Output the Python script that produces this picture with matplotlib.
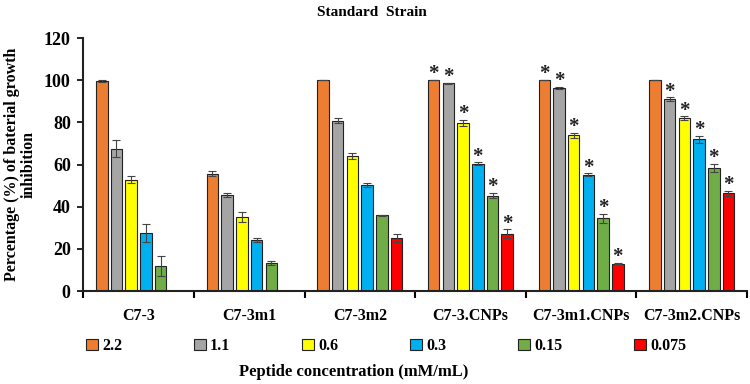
import numpy as np
import matplotlib
matplotlib.use("Agg")
import matplotlib.pyplot as plt

plt.rcParams['font.family'] = ['Liberation Serif', 'DejaVu Serif']
plt.rcParams['font.weight'] = 'bold'

categories = ['C7-3', 'C7-3m1', 'C7-3m2', 'C7-3.CNPs', 'C7-3m1.CNPs', 'C7-3m2.CNPs']
concentrations = ['2.2', '1.1', '0.6', '0.3', '0.15', '0.075']

v22 = [99.7, 55.6, 100.0, 100.0, 100.0, 100.0]
v11 = [67.6, 45.6, 80.8, 98.5, 96.2, 91.0]
v06 = [52.8, 35.1, 64.1, 79.7, 73.9, 82.0]
v03 = [27.5, 24.1, 50.3, 60.4, 55.2, 72.0]
v015 = [11.8, 13.2, 36.0, 45.2, 34.5, 58.4]
v0075 = [0.0, 0.0, 25.2, 27.2, 13.0, 46.4]

e22 = [0.4, 1.2, 0.0, 0.0, 0.0, 0.0]
e11 = [4.1, 0.8, 1.3, 0.3, 0.6, 0.8]
e06 = [1.7, 2.4, 1.3, 1.3, 1.2, 0.8]
e03 = [4.3, 1.0, 1.1, 0.6, 0.6, 1.6]
e015 = [4.6, 0.9, 0.2, 1.3, 2.2, 1.7]
e0075 = [0.0, 0.0, 1.8, 2.0, 0.3, 1.1]

# 1 = significant (asterisk)
s22 = [0, 0, 0, 1, 1, 0]
s11 = [0, 0, 0, 1, 1, 1]
s06 = [0, 0, 0, 1, 1, 1]
s03 = [0, 0, 0, 1, 1, 1]
s015 = [0, 0, 0, 1, 1, 1]
s0075 = [0, 0, 0, 1, 1, 1]

values = [v22, v11, v06, v03, v015, v0075]
errors = [e22, e11, e06, e03, e015, e0075]
stars = [s22, s11, s06, s03, s015, s0075]
colors = ['#ED7D31', '#A5A5A5', '#FFFF00', '#00B0F0', '#70AD47', '#FF0000']

fig = plt.figure(figsize=(7.5, 3.84), dpi=100)
ax = fig.add_axes([0.111, 0.242, 0.885, 0.659])

x = np.arange(len(categories))
step = 0.133
width = 0.104
handles = []
for j, (vals, errs, sig, col) in enumerate(zip(values, errors, stars, colors)):
    vals = np.array(vals)
    errs = np.array(errs)
    pos = x + (j - 2.5) * step
    b = ax.bar(pos, vals, width, color=col, edgecolor='#222222', linewidth=0.8,
               label=concentrations[j], zorder=2)
    handles.append(b)
    m = vals > 0
    ax.errorbar(pos[m], vals[m], yerr=errs[m], fmt='none', ecolor='#444444',
                elinewidth=0.8, capsize=3, capthick=0.8, zorder=3)
    for k in range(len(categories)):
        if sig[k]:
            ax.annotate('*', (pos[k], vals[k] + errs[k]), xytext=(0, -3),
                        textcoords='offset points', ha='center', va='bottom',
                        fontsize=15, fontweight='bold', color='#222222')

ax.set_xlim(-0.5, 5.5)
ax.set_ylim(0, 120)
ax.set_yticks(range(0, 121, 20))
ax.set_xticks(np.arange(-0.5, 6, 1))
ax.set_xticklabels([])
ax.set_xticks(x, minor=True)
ax.set_xticklabels(categories, minor=True)
ax.tick_params(axis='x', which='minor', length=0, pad=12, labelsize=11.5)
ax.tick_params(axis='x', which='major', length=5, width=1.5, direction='out')
ax.tick_params(axis='y', length=4, width=1.2, labelsize=13, pad=5)
for lab in ax.get_xticklabels(minor=True) + ax.get_yticklabels():
    lab.set_fontweight('bold')

for s in ['top', 'right']:
    ax.spines[s].set_visible(False)
for s in ['left', 'bottom']:
    ax.spines[s].set_linewidth(1.5)
    ax.spines[s].set_color('#222222')

ax.set_ylabel('Percentage (%) of baterial growth\ninhibition', fontsize=11.5,
              fontweight='bold', labelpad=5, linespacing=1.1)

fig.text(0.496, 0.968, 'Standard  Strain', ha='center', va='center',
         fontsize=11, fontweight='bold')
fig.text(0.471, 0.031, 'Peptide concentration (mM/mL)', ha='center', va='center',
         fontsize=12, fontweight='bold')

fig.legend(handles=handles, labels=concentrations, ncol=6, mode='expand',
           loc='center left', bbox_to_anchor=(0.115, 0.099, 0.80, 0.0),
           frameon=False, fontsize=11.5, handlelength=0.75, handleheight=0.75,
           handletextpad=0.25, borderpad=0, borderaxespad=0)

fig.savefig('out.png', dpi=100)
